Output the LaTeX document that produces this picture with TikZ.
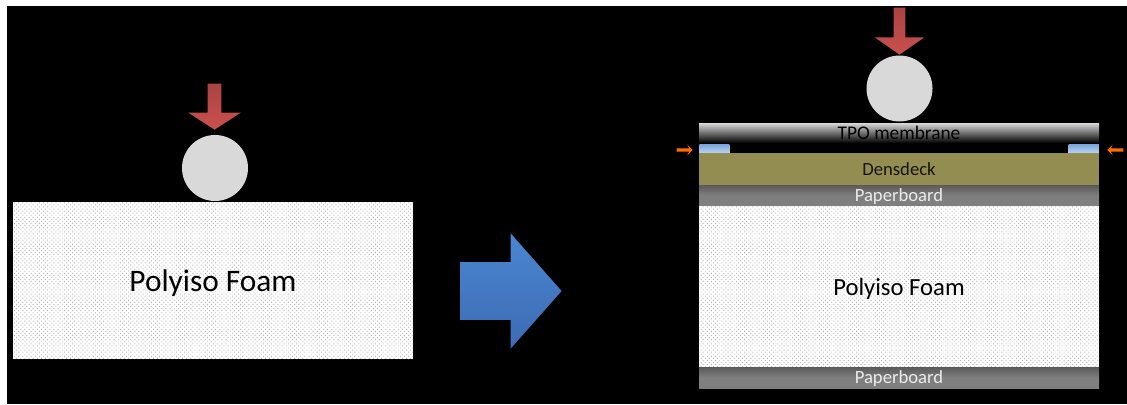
\documentclass[tikz,border=0pt]{standalone}
\usepackage{fontspec}
\setmainfont{Carlito}
\usepackage{xcolor}
\usepackage{tikz}
\usetikzlibrary{shapes.arrows, patterns.meta}

\definecolor{forcered}{HTML}{C9504D}
\definecolor{densdeck}{HTML}{938D52}
\definecolor{board}{HTML}{7F7F7F}
\definecolor{ball}{HTML}{D9D9D9}
\definecolor{nextblue}{HTML}{4A86D0}
\definecolor{nextdark}{HTML}{3C6CB4}

\begin{document}
\begin{tikzpicture}[
    x=0.75pt, y=-0.75pt,
    % Node styles
    layer/.style={rectangle, inner sep=0pt, text depth=0pt, minimum width=300pt, align=center},
    foam/.style={layer, fill=white, postaction={pattern={Dots[distance=2.2pt, radius=0.5pt, angle=45]}, pattern color=gray!60}},
    paperboard/.style={layer, top color=board!70!black, bottom color=board, middle color=board, minimum height=15.75pt, text=white!92!black, font=\fontsize{14}{16}\selectfont},
    spacer/.style={rectangle, inner sep=0pt, minimum width=22.5pt, minimum height=6.75pt, top color=nextblue!75!white, bottom color=nextblue!35!white},
    roller/.style={circle, inner sep=0pt, minimum size=49.5pt, fill=ball},
    load/.style={single arrow, inner ysep=0pt, anchor=tip, shape border rotate=270, single arrow head indent=0pt, top color=forcered!85!black, bottom color=forcered},
    squeeze/.style={single arrow, inner xsep=0pt, inner ysep=1.1pt, anchor=tip, single arrow head indent=1.5pt, single arrow head extend=2.8pt, single arrow tip angle=90, minimum height=12pt, fill=orange!85!red}
]

% -----------------------------------------------------------
% Background
% -----------------------------------------------------------
\useasboundingbox (0,0) rectangle (1127,404);
\fill[white] (0,0) rectangle (1127,404);
\fill[black] (7,6) rectangle (1127,404);

% -----------------------------------------------------------
% Left: bare foam
% -----------------------------------------------------------
\node[foam, minimum height=117.75pt, font=\fontsize{23.5}{26}\selectfont] (foamA) at (213,280.5) {Polyiso Foam};
\node[roller] (rollerA) at (215,168) {};
\node[load, inner xsep=4.875pt, minimum height=34.5pt, single arrow head extend=14.6pt, single arrow tip angle=114] (loadA) at (214.5,130) {};

% -----------------------------------------------------------
% Middle: transition arrow
% -----------------------------------------------------------
\node[single arrow, inner xsep=0pt, inner ysep=21.4pt, anchor=tip, single arrow head indent=0pt, minimum height=75.75pt, single arrow head extend=21.75pt, single arrow tip angle=97, top color=nextblue, bottom color=nextdark] (nextstep) at (562,291) {};

% -----------------------------------------------------------
% Right: layered stack
% -----------------------------------------------------------
\node[layer, minimum height=15pt, top color=white!85!black, bottom color=black, font=\fontsize{14.5}{16}\selectfont] (tpo) at (899,133) {TPO membrane};
\node[spacer, anchor=north west] (spacerL) at (699,144) {};
\node[spacer, anchor=north east] (spacerR) at (1099,144) {};
\node[layer, minimum height=24pt, fill=densdeck, text=black!85!densdeck, font=\fontsize{14}{16}\selectfont] (densdeck) at (899,169) {Densdeck};
\node[paperboard] (boardT) at (899,195.5) {Paperboard};
\node[foam, minimum height=120.75pt, font=\fontsize{18.5}{22}\selectfont] (foamB) at (899,286.5) {Polyiso Foam};
\node[paperboard] (boardB) at (899,377.5) {Paperboard};
\node[roller] (rollerB) at (899.5,88.5) {};
\node[load, inner xsep=4.125pt, minimum height=35.25pt, single arrow head extend=14.25pt, single arrow tip angle=110] (loadB) at (899.5,55) {};

% Side arrows
\node[squeeze] (squeezeL) at (693,150) {};
\node[squeeze, shape border rotate=180] (squeezeR) at (1107,150) {};

\end{tikzpicture}
\end{document}
